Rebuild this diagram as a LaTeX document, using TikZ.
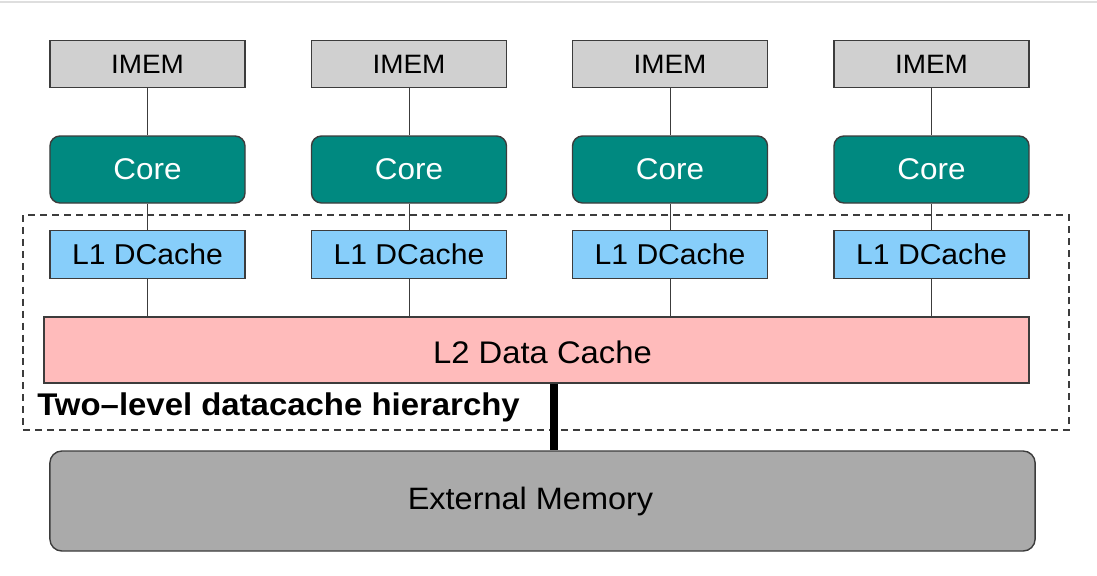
\documentclass[tikz,border=0pt]{standalone}
\usepackage{fontspec}
\setmainfont[FakeStretch=1.05]{Liberation Sans}
\usepackage{tikz}
\usetikzlibrary{positioning,calc}

\definecolor{imemgray}{RGB}{208,208,208}
\definecolor{coreteal}{RGB}{0,137,128}
\definecolor{dcblue}{RGB}{135,206,250}
\definecolor{ltwopink}{RGB}{255,187,187}
\definecolor{extgray}{RGB}{170,170,170}
\definecolor{boxline}{RGB}{60,60,60}
\definecolor{topgray}{RGB}{222,222,222}

\begin{document}
\begin{tikzpicture}[
    x=0.025cm, y=-0.025cm,
    box/.style={rectangle, draw=boxline, line width=1pt, minimum width=4.875cm, align=center},
    membox/.style={box, fill=imemgray, minimum height=1.175cm, font=\fontsize{18.9}{22}\selectfont},
    corebox/.style={box, rounded corners=0.25cm, fill=coreteal, text=white, minimum height=1.675cm, font=\fontsize{21.3}{24}\selectfont},
    dcbox/.style={box, fill=dcblue, minimum height=1.2cm, font=\fontsize{20.4}{24}\selectfont},
    wire/.style={draw=boxline, line width=0.7pt},
    bus/.style={line width=0.2cm, black},
    hier/.style={draw=boxline, line width=0.8pt, dash pattern=on 5pt off 3.5pt}
  ]
    \useasboundingbox (0,0) rectangle (1097,575);
    \draw[topgray, line width=1pt] (0,2) -- (1097,2);

    % Dashed region round the caches
    \draw[hier] (23,215) rectangle (1069,430);

    % Cores
    \node[corebox] (core1) at (147.5,169.5) {Core};
    \node[corebox] (core2) at (409,169.5) {Core};
    \node[corebox] (core3) at (670,169.5) {Core};
    \node[corebox] (core4) at (931.5,169.5) {Core};

    % Instruction memories
    \node[membox, above=1.175cm of core1] (imem1) {IMEM};
    \node[membox, above=1.175cm of core2] (imem2) {IMEM};
    \node[membox, above=1.175cm of core3] (imem3) {IMEM};
    \node[membox, above=1.175cm of core4] (imem4) {IMEM};

    % L1 data caches
    \node[dcbox, below=0.65cm of core1] (dc1) {L1 DCache};
    \node[dcbox, below=0.65cm of core2] (dc2) {L1 DCache};
    \node[dcbox, below=0.65cm of core3] (dc3) {L1 DCache};
    \node[dcbox, below=0.65cm of core4] (dc4) {L1 DCache};

    % Shared levels
    \node[box, fill=ltwopink, minimum width=24.625cm, minimum height=1.65cm] (l2) at (536.5,350) {};
    \node[font=\fontsize{22.2}{26}\selectfont] (l2text) at ($(l2)+(6,2)$) {L2 Data Cache};
    \node[box, rounded corners=0.3cm, fill=extgray, minimum width=24.625cm, minimum height=2.5cm] (ext) at (542.5,501) {};
    \node[font=\fontsize{22}{26}\selectfont] (exttext) at ($(ext)+(-12,0)$) {External Memory};
    \node[anchor=base west, inner sep=0pt, font=\fontsize{22.3}{26}\selectfont\bfseries] (hierlabel)
      at (37,415) {Two--level datacache hierarchy};

    % Wires
    \draw[wire] (imem1) -- (core1);
    \draw[wire] (imem2) -- (core2);
    \draw[wire] (imem3) -- (core3);
    \draw[wire] (imem4) -- (core4);
    \draw[wire] (core1) -- (dc1);
    \draw[wire] (core2) -- (dc2);
    \draw[wire] (core3) -- (dc3);
    \draw[wire] (core4) -- (dc4);
    \draw[wire] (dc1.south) -- (dc1.south |- l2.north);
    \draw[wire] (dc2.south) -- (dc2.south |- l2.north);
    \draw[wire] (dc3.south) -- (dc3.south |- l2.north);
    \draw[wire] (dc4.south) -- (dc4.south |- l2.north);

    % Memory bus
    \coordinate (tap) at (554,0);
    \draw[bus] (l2.south -| tap) -- (ext.north -| tap);
\end{tikzpicture}
\end{document}
